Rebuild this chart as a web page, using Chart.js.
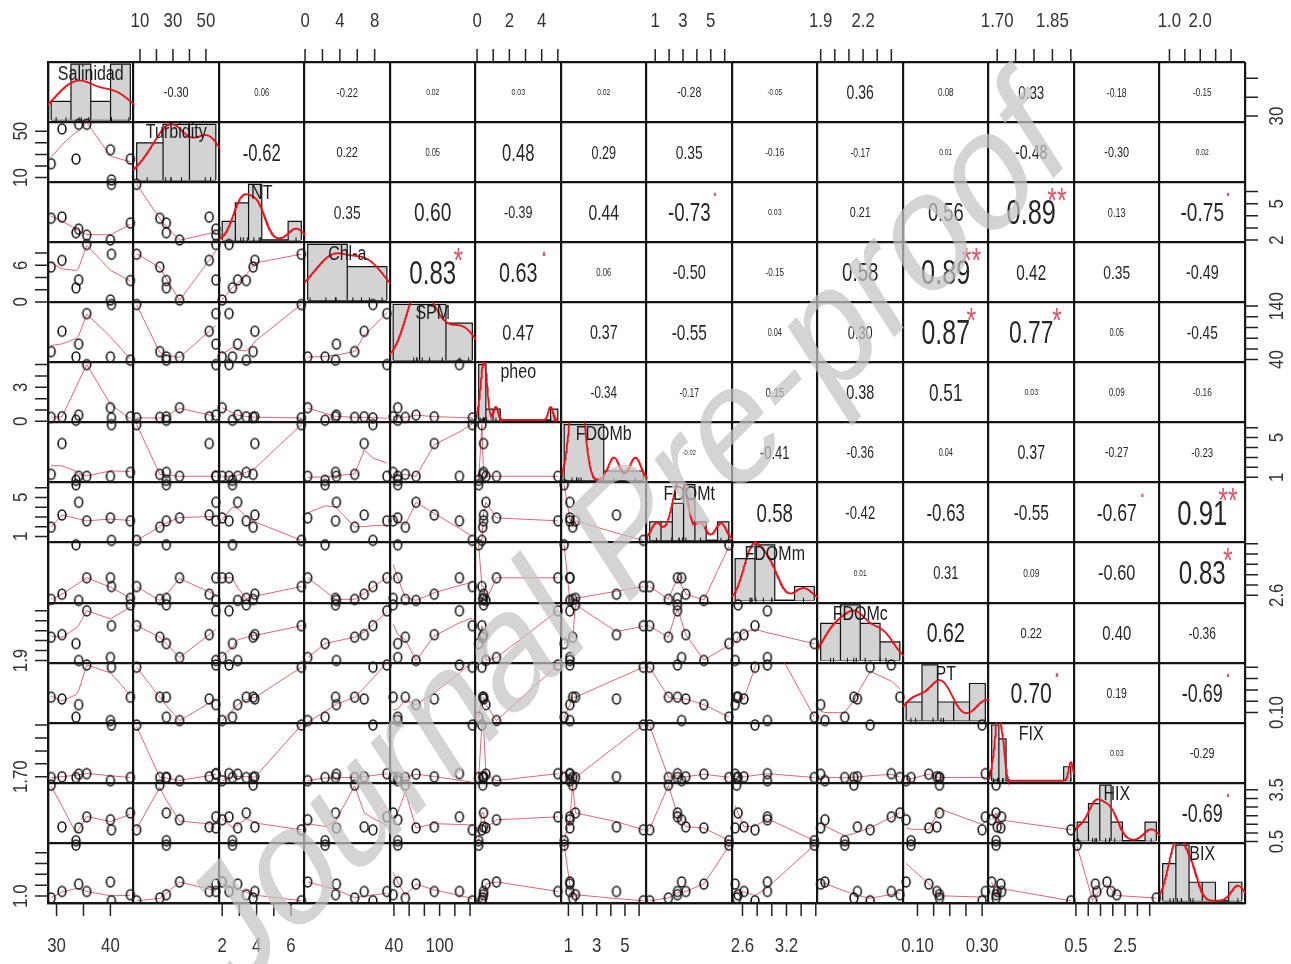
<!DOCTYPE html>
<html>
<head>
<meta charset="utf-8">
<script src="https://cdn.jsdelivr.net/npm/chart.js@4.4.0/dist/chart.umd.min.js"></script>
<style>
  html, body { margin: 0; padding: 0; background: #fff; }
  canvas { display: block; }
</style>
</head>
<body>
<canvas id="pairs" width="1291" height="964"></canvas>
<script>
// ---- data (8 samples, same order in every array) ----
const varNames = ["Salinidad", "Turbidity", "NT", "Chl-a", "SPM", "pheo", "FDOMb",
                  "FDOMt", "FDOMm", "FDOMc", "PT", "FIX", "HIX", "BIX"];

const salinidad = [29.0, 31.0, 33.6, 34.1, 35.6, 40.0, 40.2, 43.7];
const turbidity = [22, 52, 26, 56, 56, 34, 8, 26];
const nt        = [3.8, 3.9, 2.6, 2.9, 2.4, 2.0, 6.6, 3.4];
const chla      = [5.7, 6.8, 2.3, 3.6, 9.4, 0.3, 7.8, 3.5];
const spm       = [55, 93, 45, 69, 126, 45, 143, 39];
const pheo      = [0.35, 0.4, 0.1, 0.55, 5.0, 1.2, 0.3, 0.4];
const fdomb     = [1.3, 4.4, 0.7, 1.1, 1.1, 1.1, 6.3, 1.5];
const fdomt     = [1.95, 3.2, 6.3, 4.5, 2.6, 2.9, 0.6, 2.6];
const fdomm     = [2.52, 2.62, 3.58, 2.50, 2.94, 2.94, 2.77, 2.54];
const fdomc     = [2.135, 2.16, 2.07, 1.90, 2.40, 1.93, 2.25, 2.46];
const pt        = [0.168, 0.16, 0.08, 0.135, 0.31, 0.065, 0.30, 0.168];
const fix       = [1.697, 1.700, 1.697, 1.710, 1.712, 1.685, 1.900, 1.697];
const hix       = [3.77, 1.35, 0.55, 1.29, 1.93, 1.76, 1.18, 2.16];
const bix       = [0.91, 1.21, 3.35, 1.55, 1.21, 1.65, 0.78, 1.06];

const vars = [salinidad, turbidity, nt, chla, spm, pheo, fdomb, fdomt, fdomm, fdomc, pt, fix, hix, bix];

// histogram bars on the diagonal
const histBreaks = [
  [28, 32, 36, 40, 44],
  [0, 20, 40, 60],
  [1, 2, 3, 4, 5, 6, 7],
  [0, 5, 10],
  [0, 50, 100, 150],
  [0, 0.5, 1, 1.5, 2, 2.5, 3, 3.5, 4, 4.5, 5, 5.5],
  [0, 3.5, 7],
  [0, 1, 2, 3, 4, 5, 6, 7],
  [2.2, 2.6, 3.0, 3.4, 3.8],
  [1.8, 2.0, 2.2, 2.4, 2.6],
  [0.05, 0.10, 0.15, 0.20, 0.25, 0.30],
  [1.68, 1.70, 1.72, 1.74, 1.76, 1.78, 1.80, 1.82, 1.84, 1.86, 1.88, 1.90],
  [0.5, 1.0, 1.5, 2.0, 2.5, 3.0, 3.5, 4.0],
  [0.5, 1.0, 1.5, 2.0, 2.5, 3.0, 3.5]
];
const histCounts = [
  [1, 3, 1, 3],
  [2, 3, 3],
  [1, 2, 3, 0, 0, 1],
  [5, 3],
  [3, 3, 2],
  [5, 1, 1, 0, 0, 0, 0, 0, 0, 0, 1],
  [6, 1],
  [1, 1, 2, 3, 1, 0, 1],
  [3, 4, 0, 1],
  [2, 3, 2, 1],
  [1, 3, 1, 1, 2],
  [4, 3, 0, 0, 0, 0, 0, 0, 0, 0, 1],
  [1, 2, 3, 1, 0, 0, 1],
  [2, 3, 1, 1, 0, 1]
];

// correlations printed in the upper triangle (row i, columns i+1 ... 13)
const corrVals = [
  [-0.30, 0.06, -0.22, 0.02, 0.03, 0.02, -0.28, -0.05, 0.36, 0.08, 0.33, -0.18, -0.15],
  [-0.62, 0.22, 0.05, 0.48, 0.29, 0.35, -0.16, -0.17, 0.01, -0.48, -0.30, 0.02],
  [0.35, 0.60, -0.39, 0.44, -0.73, 0.03, 0.21, 0.56, 0.89, 0.13, -0.75],
  [0.83, 0.63, 0.06, -0.50, -0.15, 0.58, 0.89, 0.42, 0.35, -0.49],
  [0.47, 0.37, -0.55, 0.04, 0.30, 0.87, 0.77, 0.05, -0.45],
  [-0.34, -0.17, 0.15, 0.38, 0.51, 0.03, 0.09, -0.16],
  [-0.02, -0.41, -0.36, 0.04, 0.37, -0.27, -0.23],
  [0.58, -0.42, -0.63, -0.55, -0.67, 0.91],
  [0.01, 0.31, 0.09, -0.60, 0.83],
  [0.62, 0.22, 0.40, -0.36],
  [0.70, 0.19, -0.69],
  [0.03, -0.29],
  [-0.69]
];
const corrStars = [
  ["", "", "", "", "", "", "", "", "", "", "", "", ""],
  ["", "", "", "", "", "", "", "", "", "", "", ""],
  ["", "", "", "", ".", "", "", "", "**", "", "."],
  ["*", ".", "", "", "", "", "**", "", "", ""],
  ["", "", "", "", "", "*", "*", "", ""],
  ["", "", "", "", "", "", "", ""],
  ["", "", "", "", "", "", ""],
  ["", "", "", "", ".", "**"],
  ["", "", "", "", "*"],
  ["", "", "", ""],
  [".", "", "."],
  ["", ""],
  ["."]
];

// outer axis ticks and the labels printed on them
const axisTicks = [
  [30, 35, 40],
  [10, 20, 30, 40, 50],
  [2, 3, 4, 5, 6],
  [0, 2, 4, 6, 8],
  [40, 60, 80, 100, 120, 140],
  [0, 1, 2, 3, 4, 5],
  [1, 2, 3, 4, 5, 6],
  [1, 2, 3, 4, 5, 6],
  [2.6, 2.8, 3.0, 3.2, 3.4, 3.6],
  [1.9, 2.0, 2.1, 2.2, 2.3, 2.4],
  [0.10, 0.15, 0.20, 0.25, 0.30],
  [1.70, 1.75, 1.80, 1.85, 1.90],
  [0.5, 1.0, 1.5, 2.0, 2.5, 3.0, 3.5],
  [1.0, 1.5, 2.0, 2.5, 3.0]
];
const colTickLabels = [["30", "40"], ["10", "30", "50"], ["2", "4", "6"], ["0", "4", "8"], ["40", "100"],
  ["0", "2", "4"], ["1", "3", "5"], ["1", "3", "5"], ["2.6", "3.2"], ["1.9", "2.2"], ["0.10", "0.30"],
  ["1.70", "1.85"], ["0.5", "2.5"], ["1.0", "2.0"]];
const rowTickLabels = [["30"], ["10", "50"], ["2", "5"], ["0", "6"], ["40", "140"], ["0", "3"], ["1", "5"],
  ["1", "5"], ["2.6"], ["1.9"], ["0.10"], ["1.70"], ["0.5", "3.5"], ["1.0"]];

// ---- helpers ----
const N = vars.length;
const SQ = 0.8; // the picture's text is horizontally condensed
const SQ_COR = 0.72;
const FONT = '"Liberation Sans", Arial, sans-serif';
const RED = "#DF536B";

function padRange(arr) {
  const lo = Math.min(...arr), hi = Math.max(...arr), p = 0.04 * (hi - lo);
  return [lo - p, hi + p];
}
const ranges = vars.map(padRange);
const norm = (k, v) => (v - ranges[k][0]) / (ranges[k][1] - ranges[k][0]);

function lowess(xs, ys, f = 2 / 3, iter = 3) {
  const n = xs.length;
  const idx = xs.map((_, k) => k).sort((a, b) => xs[a] - xs[b]);
  const x = idx.map(k => xs[k]), y = idx.map(k => ys[k]);
  const ns = Math.max(2, Math.min(n, Math.floor(f * n + 1e-7)));
  const span = x[n - 1] - x[0];
  let rw = new Array(n).fill(1), fit = new Array(n).fill(0);
  for (let it = 0; it <= iter; it++) {
    for (let i = 0; i < n; i++) {
      const d = x.map(v => Math.abs(v - x[i]));
      const h = [...d].sort((a, b) => a - b)[ns - 1];
      const w = d.map((dd, j) => {
        let t;
        if (h <= 0) t = dd === 0 ? 1 : 0;
        else if (dd <= 0.001 * h) t = 1;
        else if (dd > 0.999 * h) t = 0;
        else t = Math.pow(1 - Math.pow(dd / h, 3), 3);
        return t * rw[j];
      });
      const sw = w.reduce((a, b) => a + b, 0);
      if (sw <= 0) { fit[i] = y[i]; continue; }
      const a = w.reduce((s, wj, j) => s + wj * x[j], 0) / sw;
      const my = w.reduce((s, wj, j) => s + wj * y[j], 0) / sw;
      const b = w.reduce((s, wj, j) => s + wj * (x[j] - a) ** 2, 0);
      if (Math.sqrt(b / sw) > 0.001 * span) {
        const c = w.reduce((s, wj, j) => s + wj * (x[j] - a) * y[j], 0);
        fit[i] = my + (x[i] - a) * c / b;
      } else fit[i] = my;
    }
    if (it === iter) break;
    const res = y.map((v, j) => v - fit[j]);
    const sorted = res.map(Math.abs).sort((p, q) => p - q);
    const med = n % 2 ? sorted[(n - 1) / 2] : (sorted[n / 2 - 1] + sorted[n / 2]) / 2;
    const cmad = 6 * med;
    if (cmad < 1e-7) break;
    rw = res.map(r => {
      const u = Math.abs(r) / cmad;
      return u <= 0.001 ? 1 : u > 0.999 ? 0 : (1 - u * u) ** 2;
    });
  }
  return x.map((v, k) => [v, fit[k]]);
}

function density(arr) {
  const n = arr.length;
  const mean = arr.reduce((a, b) => a + b, 0) / n;
  const sd = Math.sqrt(arr.reduce((s, v) => s + (v - mean) ** 2, 0) / (n - 1));
  const s = [...arr].sort((a, b) => a - b);
  const q = p => { const h = (n - 1) * p, lo = Math.floor(h); return s[lo] + (h - lo) * ((s[lo + 1] ?? s[lo]) - s[lo]); };
  const iqr = q(0.75) - q(0.25);
  let lo = Math.min(sd, iqr / 1.34);
  if (!(lo > 0)) lo = sd || 1;
  const bw = 0.9 * lo * Math.pow(n, -0.2);
  const from = s[0] - 3 * bw, to = s[n - 1] + 3 * bw, pts = [];
  for (let g = 0; g < 256; g++) {
    const xv = from + (to - from) * g / 255;
    let d = 0;
    arr.forEach(v => { const z = (xv - v) / bw; d += Math.exp(-0.5 * z * z); });
    pts.push([xv, d / (n * bw * Math.sqrt(2 * Math.PI))]);
  }
  return pts;
}

// clip a polyline given in unit-square coords, gaps become null points
function clipUnit(pts) {
  const out = [];
  let open = false;
  for (let k = 0; k < pts.length - 1; k++) {
    const [x0, y0] = pts[k], [x1, y1] = pts[k + 1];
    const dx = x1 - x0, dy = y1 - y0;
    let t0 = 0, t1 = 1, ok = true;
    [[-dx, x0], [dx, 1 - x0], [-dy, y0], [dy, 1 - y0]].forEach(([p, qv]) => {
      if (!ok) return;
      if (p === 0) { if (qv < 0) ok = false; return; }
      const r = qv / p;
      if (p < 0) { if (r > t1) ok = false; else if (r > t0) t0 = r; }
      else { if (r < t0) ok = false; else if (r < t1) t1 = r; }
    });
    if (!ok) { if (open) { out.push(null); open = false; } continue; }
    if (!open || t0 > 0) { if (out.length) out.push(null); out.push([x0 + t0 * dx, y0 + t0 * dy]); }
    out.push([x0 + t1 * dx, y0 + t1 * dy]);
    open = t1 === 1;
  }
  return out;
}
const toPanel = (pts, col, row) =>
  pts.map(p => p ? { x: col + p[0], y: row + 1 - p[1] } : { x: null, y: null });

function ring() {
  const c = document.createElement("canvas");
  c.width = 12; c.height = 14;
  const g = c.getContext("2d");
  g.strokeStyle = "#141414"; g.lineWidth = 1.6;
  g.beginPath(); g.ellipse(6, 7, 3.9, 5.0, 0, 0, 2 * Math.PI); g.stroke();
  return c;
}
const ringStyle = ring();

// ---- datasets ----
const datasets = [];
for (let i = 0; i < N; i++) {
  for (let j = 0; j < i; j++) {
    datasets.push({
      type: "scatter", order: 0,
      data: vars[j].map((xv, o) => ({ x: j + norm(j, xv), y: i + 1 - norm(i, vars[i][o]) })),
      pointStyle: ringStyle, pointRadius: 5, borderWidth: 0
    });
    const sm = lowess(vars[j], vars[i]).map(([a, b]) => [norm(j, a), norm(i, b)]);
    datasets.push({
      type: "line", order: 1, data: toPanel(clipUnit(sm), j, i),
      borderColor: "rgba(222,60,85,0.8)", borderWidth: 1, pointRadius: 0, fill: false, tension: 0
    });
  }
}
for (let k = 0; k < N; k++) {
  const br = histBreaks[k], ct = histCounts[k];
  const tot = ct.reduce((a, b) => a + b, 0);
  const dens = ct.map((c, b) => c / (tot * (br[b + 1] - br[b])));
  const maxD = Math.max(...dens);
  const R = br[br.length - 1] - br[0];
  const hx0 = br[0] - 0.04 * R, hx1 = br[br.length - 1] + 0.04 * R;
  const hnx = v => (v - hx0) / (hx1 - hx0);
  const hny = d => (d + 0.04 * maxD) / (1.08 * maxD);
  const outline = [[hnx(br[0]), hny(0)]];
  dens.forEach((d, b) => {
    outline.push([hnx(br[b]), hny(d)], [hnx(br[b + 1]), hny(d)], [hnx(br[b + 1]), hny(0)]);
  });
  datasets.push({
    type: "line", order: 3, data: toPanel(outline, k, k),
    borderColor: "#111", borderWidth: 1.2, pointRadius: 0, tension: 0,
    backgroundColor: "#d3d3d3", fill: { value: k + 1 - hny(0) }
  });
  datasets.push({
    type: "line", order: 3, data: toPanel([[hnx(br[0]), hny(0)], [hnx(br[br.length - 1]), hny(0)]], k, k),
    borderColor: "#111", borderWidth: 1.2, pointRadius: 0, fill: false
  });
  const dc = density(vars[k]).map(([a, d]) => [hnx(a), hny(d)]);
  datasets.push({
    type: "line", order: 2, data: toPanel(clipUnit(dc), k, k),
    borderColor: "#e8141c", borderWidth: 1.8, pointRadius: 0, fill: false, tension: 0
  });
  datasets.push({
    type: "scatter", order: 2,
    data: vars[k].map(v => ({ x: k + hnx(v), y: k + 1 - 0.04 })),
    pointStyle: "line", rotation: 90, pointRadius: 2.5, borderColor: "#111", borderWidth: 1
  });
}

// ---- text, outer axes and watermark ----
function drawText(ctx, str, px, py, size, color, rot, sq = SQ) {
  ctx.save();
  ctx.translate(px, py);
  if (rot) ctx.rotate(rot);
  ctx.scale(sq, 1);
  ctx.font = size + "px " + FONT;
  ctx.textAlign = "center";
  ctx.textBaseline = "alphabetic";
  const m = ctx.measureText(str);
  ctx.fillStyle = color;
  ctx.fillText(str, 0, (m.actualBoundingBoxAscent - m.actualBoundingBoxDescent) / 2);
  ctx.restore();
}

const pairsText = {
  id: "pairsText",
  afterDatasetsDraw(chart) {
    const { ctx, chartArea: area } = chart;
    const xs = chart.scales.x, ys = chart.scales.y;
    const px = v => xs.getPixelForValue(v), py = v => ys.getPixelForValue(v);

    // variable names on the diagonal
    varNames.forEach((name, k) => drawText(ctx, name, px(k + 0.5), py(k + 1 / 6), 20, "#1c1c1c"));

    // correlations and significance marks
    corrVals.forEach((row, i) => row.forEach((r, c) => {
      const j = i + 1 + c;
      const txt = r.toFixed(2);
      const W = px(j + 1) - px(j);
      ctx.font = "100px " + FONT;
      const w100 = ctx.measureText(txt).width * SQ_COR / 100;
      const size = 0.63 * W * (Math.abs(r) + 0.3) / 1.3 / w100;
      drawText(ctx, txt, px(j + 0.5), py(i + 0.5), size, "#262626", 0, SQ_COR);
      const st = corrStars[i][c];
      if (st) drawText(ctx, st, px(j + 0.8), py(i + 0.2), size * 1.3 / (Math.abs(r) + 0.3) * 0.9, RED, 0, SQ_COR);
    }));

    // outer axes: columns alternate bottom/top, rows alternate right/left
    ctx.save();
    ctx.strokeStyle = "#222";
    ctx.lineWidth = 1.5;
    for (let k = 0; k < N; k++) {
      const bottom = k % 2 === 0, right = k % 2 === 0;
      axisTicks[k].forEach(t => {
        const x = px(k + norm(k, t)), y = py(k + 1 - norm(k, t));
        ctx.beginPath();
        if (bottom) { ctx.moveTo(x, area.bottom); ctx.lineTo(x, area.bottom + 13); }
        else { ctx.moveTo(x, area.top); ctx.lineTo(x, area.top - 13); }
        if (right) { ctx.moveTo(area.right, y); ctx.lineTo(area.right + 13, y); }
        else { ctx.moveTo(area.left, y); ctx.lineTo(area.left - 13, y); }
        ctx.stroke();
      });
      colTickLabels[k].forEach(lab => {
        const x = px(k + norm(k, parseFloat(lab)));
        drawText(ctx, lab, x, bottom ? area.bottom + 42 : area.top - 42, 21, "#333");
      });
      rowTickLabels[k].forEach(lab => {
        const y = py(k + 1 - norm(k, parseFloat(lab)));
        drawText(ctx, lab, right ? area.right + 31 : area.left - 28, y, 21, "#333", -Math.PI / 2);
      });
    }
    ctx.restore();

    // publisher watermark
    ctx.save();
    ctx.translate(630, 540);
    ctx.scale(SQ, 1);
    ctx.rotate(-Math.atan(SQ));
    ctx.font = "174px " + FONT;
    ctx.textAlign = "center";
    ctx.textBaseline = "middle";
    ctx.fillStyle = "rgba(196,196,196,0.72)";
    ctx.fillText("Journal Pre-proof", 0, 0);
    ctx.restore();
  }
};

const gridAxis = reverse => ({
  type: "linear", min: 0, max: N, reverse,
  ticks: { display: false, stepSize: 1 },
  grid: { color: "#141414", lineWidth: 2.2, drawTicks: false },
  border: { color: "#141414", width: 2.2 },
  afterFit: s => { if (s.isHorizontal()) s.height = 0; else s.width = 0; }
});

new Chart(document.getElementById("pairs"), {
  type: "scatter",
  data: { datasets },
  options: {
    responsive: false,
    devicePixelRatio: 1,
    animation: false,
    events: [],
    layout: { padding: { left: 48, right: 46, top: 62, bottom: 61 } },
    scales: { x: gridAxis(false), y: gridAxis(true) },
    plugins: { legend: { display: false }, tooltip: { enabled: false } }
  },
  plugins: [pairsText]
});
</script>
</body>
</html>
